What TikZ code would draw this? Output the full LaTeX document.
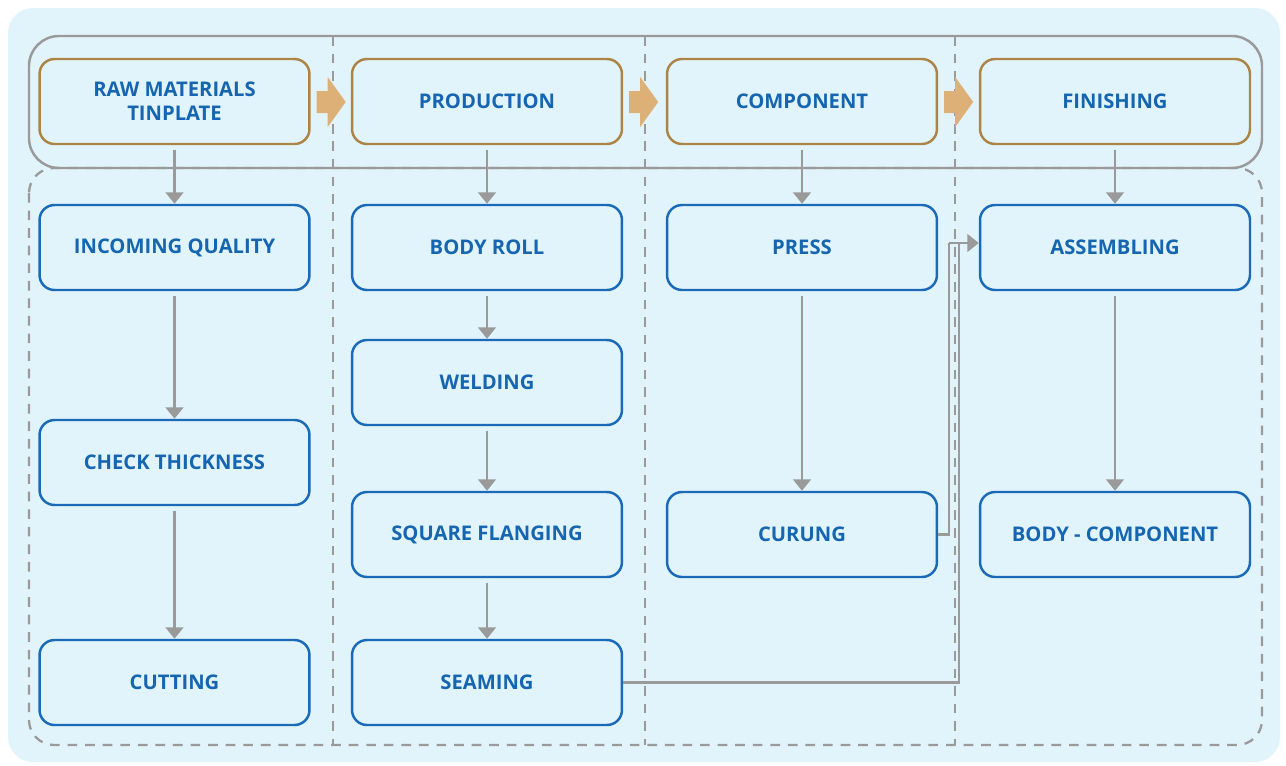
\documentclass[tikz,border=0pt]{standalone}
\usepackage{fontspec}
\setsansfont{Open Sans}
\usepackage{xcolor}
\usetikzlibrary{positioning, arrows.meta, calc}

\definecolor{bgblue}{HTML}{E1F4FB}
\definecolor{boxblue}{HTML}{1A6AB8}
\definecolor{textblue}{HTML}{1565B0}
\definecolor{goldline}{HTML}{AC8446}
\definecolor{goldfill}{HTML}{DDB078}
\definecolor{linegray}{HTML}{9A9A9A}

\begin{document}
\begin{tikzpicture}[
  x=0.02cm, y=-0.02cm,
  stagebox/.style={rectangle, rounded corners=0.3cm, draw=goldline, line width=1.4pt, fill=bgblue,
    minimum width=5.4cm, minimum height=1.7cm, inner sep=0pt, align=center,
    font=\sffamily\bfseries\fontsize{11.5}{13.5}\selectfont, text=textblue},
  stepbox/.style={stagebox, draw=boxblue},
  flow/.style={-{Triangle[width=10pt, length=6.5pt]}, linegray, line width=1.5pt, shorten <=2.5pt},
  link/.style={linegray, line width=1.4pt},
  divider/.style={linegray, line width=1.3pt, dash pattern=on 5.5pt off 4.5pt},
  goldarrow/.style={fill=goldfill, draw=none},
]
\useasboundingbox (0,0) rectangle (1286,765);

%% ── Background and frames ────────────────────────────────────────────────────
\fill[bgblue, rounded corners=0.5cm] (8,8) rectangle (1280,762);
\draw[divider, rounded corners=0.5cm] (29,168) rectangle (1262,745);
\draw[link, rounded corners=0.6cm] (29,36) rectangle (1262,168);
\foreach \x in {333,645,955} {
  \draw[divider] (\x,36) -- (\x,745);
}

%% ── Stage nodes ──────────────────────────────────────────────────────────────
\node[stagebox] (raw)       at (174.5, 101.5) {RAW MATERIALS\\TINPLATE};
\node[stagebox] (prod)      at (487,   101.5) {PRODUCTION};
\node[stagebox] (comp)      at (802,   101.5) {COMPONENT};
\node[stagebox] (finish)    at (1115,  101.5) {FINISHING};

%% ── Step nodes ───────────────────────────────────────────────────────────────
\node[stepbox] (incoming)   at (174.5, 247.5) {INCOMING QUALITY};
\node[stepbox] (thickness)  at (174.5, 462.5) {CHECK THICKNESS};
\node[stepbox] (cutting)    at (174.5, 682.5) {CUTTING};

\node[stepbox] (bodyroll)   at (487, 247.5) {BODY ROLL};
\node[stepbox] (welding)    at (487, 382.5) {WELDING};
\node[stepbox] (flanging)   at (487, 534.5) {SQUARE FLANGING};
\node[stepbox] (seaming)    at (487, 682.5) {SEAMING};

\node[stepbox] (press)      at (802, 247.5) {PRESS};
\node[stepbox] (curung)     at (802, 534.5) {CURUNG};

\node[stepbox] (assembling) at (1115, 247.5) {ASSEMBLING};
\node[stepbox] (bodycomp)   at (1115, 534.5) {BODY - COMPONENT};

%% ── Gold arrows between stages ───────────────────────────────────────────────
\foreach \src in {raw,prod,comp} {
  \fill[goldarrow] ($(\src.east)+(6,-10.5)$) -- ++(11,0) -- ++(0,-14) -- ++(18,25)
    -- ++(-18,25) -- ++(0,-14) -- ++(-11,0) -- cycle;
}

%% ── Column flows ─────────────────────────────────────────────────────────────
\foreach \a/\b in {raw/incoming, incoming/thickness, thickness/cutting,
                   prod/bodyroll, bodyroll/welding, welding/flanging, flanging/seaming,
                   comp/press, press/curung,
                   finish/assembling, assembling/bodycomp} {
  \draw[flow] (\a) -- (\b);
}

%% ── Cross connections to assembling ──────────────────────────────────────────
\coordinate (joinA) at (949,243);
\coordinate (joinB) at (959,243);
\draw[link] (seaming.east) -| (joinB);
\draw[link] (curung.east) -| (joinA);
\draw[flow, shorten <=0pt] (joinA) -- (joinA -| assembling.west);

\end{tikzpicture}
\end{document}
